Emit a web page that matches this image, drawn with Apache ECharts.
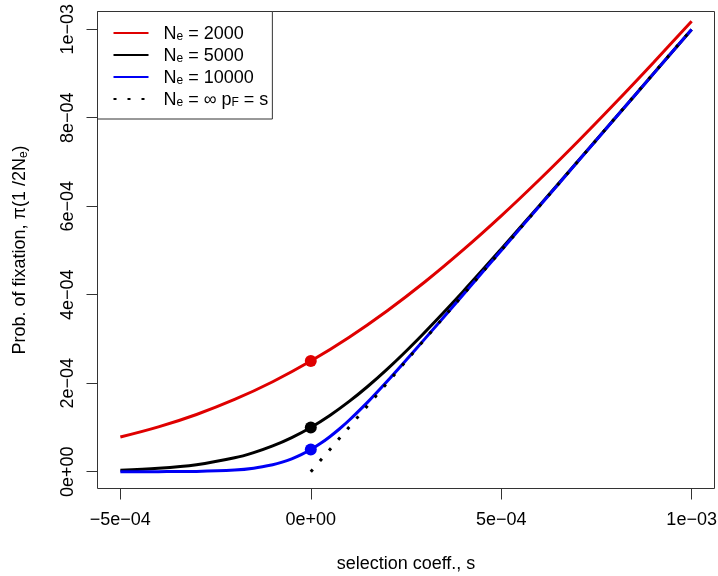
<!DOCTYPE html>
<html>
<head>
<meta charset="utf-8">
<script src="https://cdn.jsdelivr.net/npm/echarts@6/dist/echarts.min.js"></script>
<style>
html,body{margin:0;padding:0;background:#fff;}
#chart{width:718px;height:576px;}
</style>
</head>
<body>
<div id="chart"></div>
<script>
// ---- data ----
const sRed = [-5e-4,-4e-4,-3e-4,-2e-4,-1e-4,0,1e-4,2e-4,3e-4,4e-4,5e-4,6e-4,7e-4,8e-4,9e-4,1e-3];
const piRed = [7.83e-5,1.012e-4,1.293e-4,1.632e-4,2.033e-4,2.5e-4,3.033e-4,3.632e-4,4.292e-4,5.011e-4,5.781e-4,6.597e-4,7.451e-4,8.337e-4,9.249e-4,1.0181e-3];

const sBlack = [-5e-4,-4e-4,-3e-4,-2e-4,-1.5e-4,-1e-4,-5e-5,0,5e-5,1e-4,1.5e-4,2e-4,2.5e-4,3e-4,4e-4,5e-4,6e-4,7e-4,8e-4,9e-4,1e-3];
const piBlack = [3.4e-6,7.5e-6,1.57e-5,3.13e-5,4.31e-5,5.82e-5,7.71e-5,1.0e-4,1.271e-4,1.582e-4,1.931e-4,2.313e-4,2.723e-4,3.157e-4,4.074e-4,5.033e-4,6.013e-4,7.004e-4,7.999e-4,8.997e-4,9.995e-4];

const sBlue = [-5e-4,-4e-4,-3e-4,-2e-4,-1.5e-4,-1e-4,-7.5e-5,-5e-5,-2.5e-5,0,2.5e-5,5e-5,7.5e-5,1e-4,1.5e-4,2e-4,2.5e-4,3e-4,4e-4,5e-4,6e-4,7e-4,8e-4,9e-4,1e-3];
const piBlue = [0,1e-7,7e-7,3.7e-6,7.9e-6,1.57e-5,2.15e-5,2.91e-5,3.85e-5,5.0e-5,6.35e-5,7.91e-5,9.65e-5,1.156e-4,1.578e-4,2.037e-4,2.517e-4,3.007e-4,4.001e-4,4.999e-4,5.998e-4,6.998e-4,7.997e-4,8.996e-4,9.995e-4];

const sInf = [0, 1e-3];
const piInf = [0, 1e-3];

const dotS = [0, 0, 0];
const dotPi = [2.5e-4, 1e-4, 5e-5];

const seriesNames = ['Ne2000', 'Ne5000', 'Ne10000', 'NeInf'];
const legendLabels = [
  '{sp|}{n|N}{sub|e}{n| = 2000}',
  '{sp|}{n|N}{sub|e}{n| = 5000}',
  '{sp|}{n|N}{sub|e}{n| = 10000}',
  '{sp|}{n|N}{sub|e}{n| = \u221E p}{sub|F}{n| = s}'
];

const xTickValues = [-5e-4, 0, 5e-4, 1e-3];
const xTickLabels = ['\u22125e\u221204', '0e+00', '5e\u221204', '1e\u221203'];
const yTickValues = [0, 2e-4, 4e-4, 6e-4, 8e-4, 1e-3];
const yTickLabels = ['0e+00', '2e\u221204', '4e\u221204', '6e\u221204', '8e\u221204', '1e\u221203'];

const xTitle = 'selection coeff., s';
const yTitle = '{n|Prob. of fixation, \u03C0(1 /2N}{sub|e}{n|)}';

// ---- styling ----
const FONT = "'Liberation Sans', Arial, Helvetica, sans-serif";
const colors = ['#DF0000', '#000000', '#0000F5', '#000000'];

function zip(a, b) { return a.map((v, i) => [v, b[i]]); }
function tickFmt(vals, labels) {
  return function (v) {
    for (let i = 0; i < vals.length; i++) {
      if (Math.abs(v - vals[i]) < 1e-9) return labels[i];
    }
    return '';
  };
}

const richText = {
  sp: { width: 10 },
  n: { fontSize: 18, lineHeight: 20, verticalAlign: 'bottom', color: '#000', fontFamily: FONT },
  sub: { fontSize: 12, lineHeight: 10, verticalAlign: 'bottom', color: '#000', fontFamily: FONT }
};

const chart = echarts.init(document.getElementById('chart'), null, { renderer: 'canvas' });

const lineSeries = [
  { x: sRed, y: piRed },
  { x: sBlack, y: piBlack },
  { x: sBlue, y: piBlue }
].map((d, i) => ({
  name: seriesNames[i],
  type: 'line',
  data: zip(d.x, d.y),
  smooth: 0.35,
  showSymbol: false,
  symbol: 'none',
  lineStyle: { color: colors[i], width: 3 },
  itemStyle: { color: colors[i] },
  z: 2 + i
}));

lineSeries.push({
  name: seriesNames[3],
  type: 'line',
  data: zip(sInf, piInf),
  showSymbol: false,
  symbol: 'none',
  lineStyle: { color: '#000', width: 3, type: [3, 11], cap: 'butt' },
  itemStyle: { color: '#000' },
  z: 6
});

const dotSeries = dotS.map((s, i) => ({
  name: 'dot' + i,
  type: 'scatter',
  data: [[s, dotPi[i]]],
  symbol: 'circle',
  symbolSize: 12,
  itemStyle: { color: colors[i], opacity: 1 },
  z: 10
}));

const option = {
  animation: false,
  backgroundColor: '#fff',
  textStyle: { fontFamily: FONT },
  grid: {
    left: 97.5, right: 3.5, top: 11.5, bottom: 87.5,
    containLabel: false,
    outerBoundsMode: 'none',
    show: true, borderColor: '#333', borderWidth: 1, backgroundColor: 'transparent'
  },
  legend: {
    data: seriesNames,
    orient: 'vertical',
    left: 97.5, top: 11.5,
    padding: [11.5, 4, 10, 15],
    itemWidth: 35, itemHeight: 14, itemGap: 2,
    borderColor: '#333', borderWidth: 1,
    backgroundColor: '#fff',
    align: 'left',
    selectedMode: false,
    itemStyle: { color: 'transparent', borderColor: 'transparent', borderWidth: 0, opacity: 0 },
    formatter: function (name) { return legendLabels[seriesNames.indexOf(name)]; },
    textStyle: { rich: richText, fontSize: 18, lineHeight: 20, color: '#000' }
  },
  xAxis: {
    type: 'value',
    min: -5.6e-4, max: 1.06e-3,
    axisLine: { show: false, onZero: false },
    splitLine: { show: false },
    axisTick: { show: true, length: 11, lineStyle: { color: '#333', width: 1 }, customValues: xTickValues },
    axisLabel: {
      customValues: xTickValues,
      formatter: tickFmt(xTickValues, xTickLabels),
      fontSize: 18, color: '#000', fontFamily: FONT, margin: 23
    },
    name: xTitle,
    nameLocation: 'middle',
    nameGap: 67,
    nameTextStyle: { fontSize: 18, color: '#000', fontFamily: FONT }
  },
  yAxis: {
    type: 'value',
    min: -3.8e-5, max: 1.04e-3,
    axisLine: { show: false, onZero: false },
    splitLine: { show: false },
    axisTick: { show: true, length: 11, lineStyle: { color: '#333', width: 1 }, customValues: yTickValues },
    axisLabel: {
      customValues: yTickValues,
      formatter: tickFmt(yTickValues, yTickLabels),
      rotate: 90,
      fontSize: 18, color: '#000', fontFamily: FONT, margin: 20
    },
    name: yTitle,
    nameLocation: 'middle',
    nameGap: 68,
    nameTextStyle: { fontSize: 18, color: '#000', fontFamily: FONT, rich: richText }
  },
  series: lineSeries.concat(dotSeries)
};

chart.setOption(option);
</script>
</body>
</html>
